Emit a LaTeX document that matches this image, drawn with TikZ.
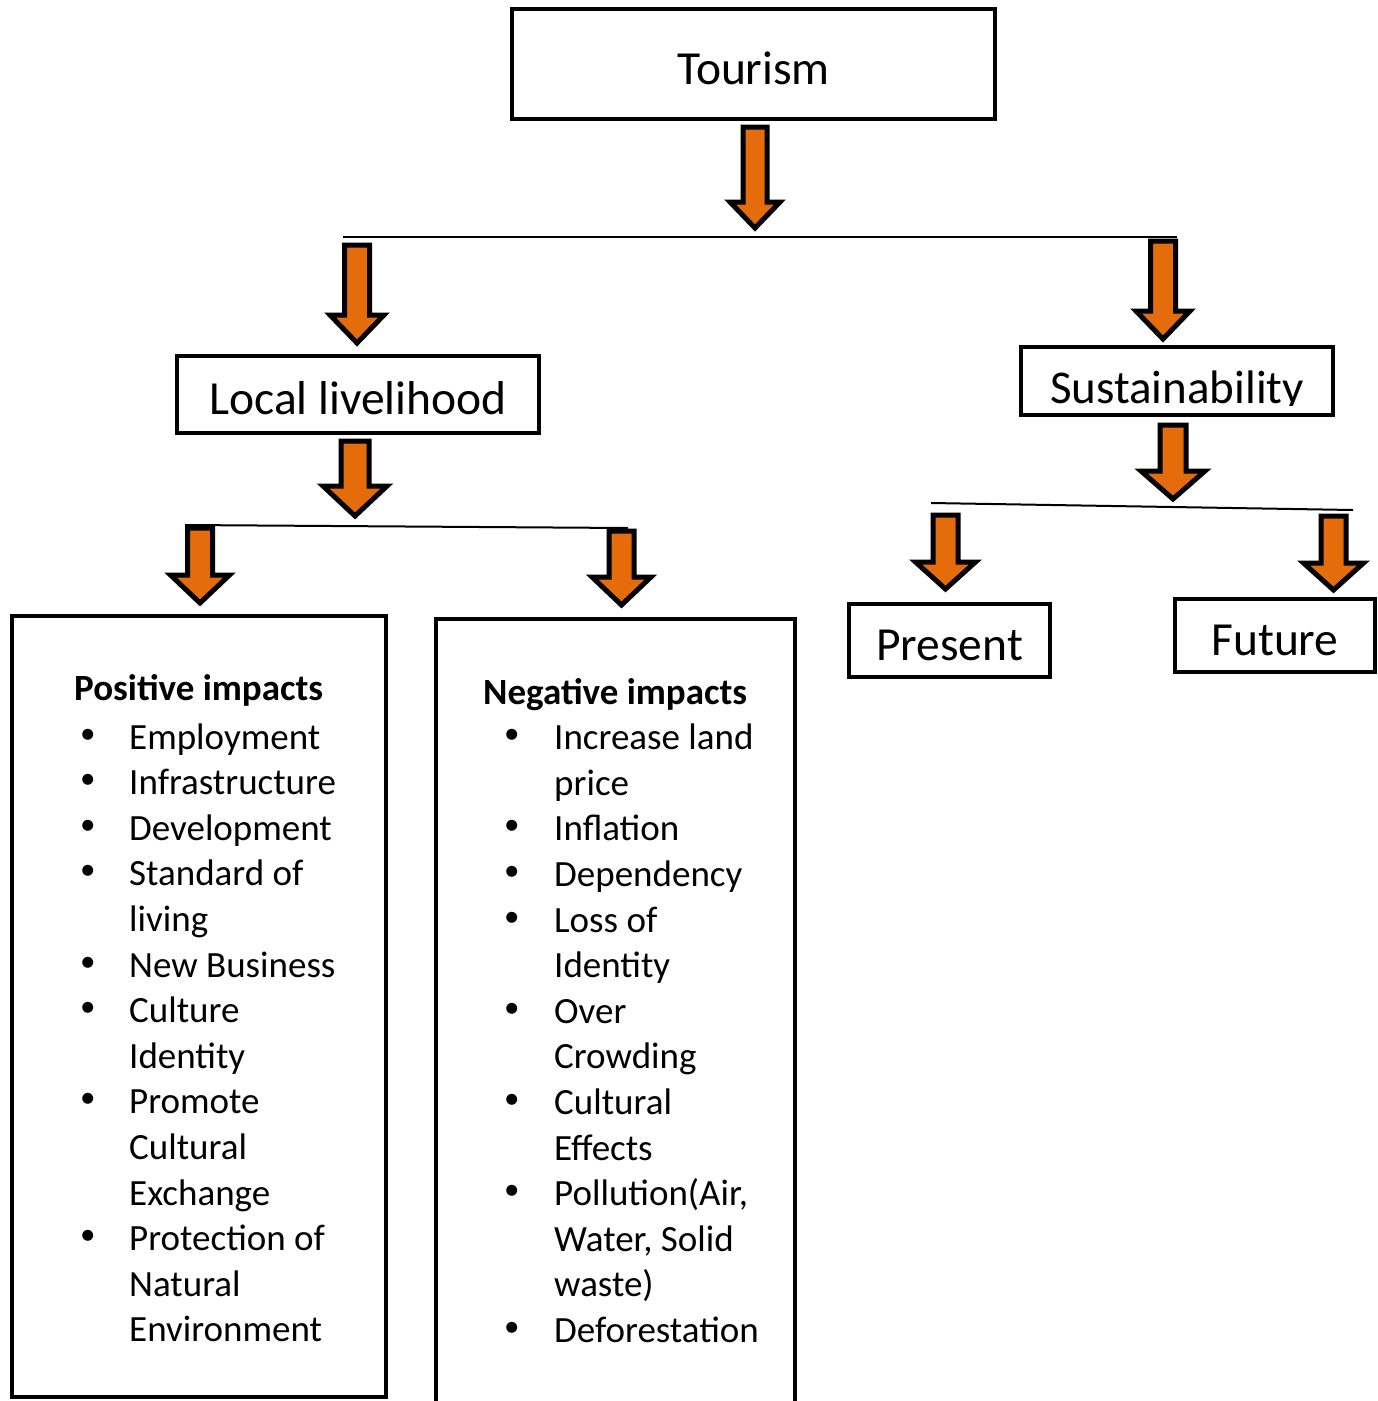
\documentclass[tikz,border=0pt]{standalone}
\usepackage{fontspec}
\setmainfont{Carlito}
\usepackage{array}
\definecolor{arroworange}{HTML}{E46C0A}
\tikzset{
  box/.style={draw=black, line width=4pt, fill=white, inner sep=0pt,
    font=\fontsize{47.5}{57}\selectfont, text height=40pt, text depth=0pt},
  thinline/.style={draw=black, line width=2pt},
  blockarrow/.style={draw=black, fill=arroworange, line width=5pt, line join=miter},
  listtext/.style={inner sep=0pt, anchor=base west, align=left,
    font=\fontsize{37}{45.6}\selectfont}
}
% \barrow{cx}{top}{tip}{half shaft}{half head}{head length}
\newcommand{\barrow}[6]{%
  \draw[blockarrow] ({#1-#4},#2) -- ({#1+#4},#2) -- ({#1+#4},{#3-#6}) -- ({#1+#5},{#3-#6})
    -- (#1,#3) -- ({#1-#5},{#3-#6}) -- ({#1-#4},{#3-#6}) -- cycle;}
\newcommand{\bul}[1]{\hspace*{#1}\raisebox{6pt}{\fontsize{31}{31}\selectfont\textbullet}}
\begin{document}
\begin{tikzpicture}[x=1pt,y=-1pt]
\useasboundingbox (0,0) rectangle (1377,1401);
\clip (0,0) rectangle (1377,1401);

% top boxes
\node[box, minimum width=483pt, minimum height=110pt] (tourism) at (753.5,64) {Tourism};
\node[box, minimum width=362pt, minimum height=77pt] (local) at (358,394.5) {Local livelihood};
\node[box, minimum width=312pt, minimum height=68pt] (sus) at (1177,381) {};
\begin{scope}
  \clip (1023,349) rectangle (1331,405);
  \node[inner sep=0pt, anchor=base, font=\fontsize{47}{56}\selectfont] (sustext) at (1177,403) {Sustainability};
\end{scope}
\node[box, minimum width=201pt, minimum height=73pt] (present) at (949.5,640.5) {Present};
\node[box, minimum width=200pt, minimum height=73pt] (future) at (1275,635.5) {Future};

% connector lines
\coordinate (l1a) at (343,237); \coordinate (l1b) at (1177,237);
\draw[thinline] (l1a) -- (l1b);
\coordinate (l2a) at (185,525); \coordinate (l2b) at (628,528);
\draw[thinline] (l2a) -- (l2b);
\coordinate (l3a) at (931,503); \coordinate (l3b) at (1353,510);
\draw[thinline] (l3a) -- (l3b);

% block arrows
\barrow{755}{127}{228}{12}{25}{26}
\barrow{357}{245}{343}{12.5}{27}{28}
\barrow{1163}{241}{339}{12.5}{27}{28}
\barrow{355}{441}{516}{14}{32}{30}
\barrow{200}{528}{603}{12.5}{29.5}{28}
\barrow{621.5}{531}{605}{12.5}{29.5}{28}
\barrow{1173}{425}{499}{13}{32}{28}
\barrow{945.5}{515}{589}{12.5}{30}{27}
\barrow{1333.5}{516}{590}{12.5}{30}{27}

% lower boxes
\draw[line width=4pt, line join=miter] (12,1397) -- (12,616) -- (386,616) -- (386,1397) -- cycle;
\coordinate (posbox) at (199,616);
\draw[line width=4pt, line join=miter] (436,1420) -- (436,619) -- (795,619) -- (795,1420);
\coordinate (negbox) at (615.5,619);

% lists
\node[listtext] (pos) at (74,700) {%
\begin{tabular}[t]{@{}p{55pt}@{}l@{}}
\multicolumn{2}{@{}l@{}}{\fontsize{37}{45.6}\selectfont\bfseries Positive impacts}\\[3.4pt]
\bul{6pt} & Employment\\
\bul{6pt} & Infrastructure\\
\bul{6pt} & Development\\
\bul{6pt} & Standard of\\
 & living\\
\bul{6pt} & New Business\\
\bul{6pt} & Culture\\
 & Identity\\
\bul{6pt} & Promote\\
 & Cultural\\
 & Exchange\\
\bul{6pt} & Protection of\\
 & Natural\\
 & Environment
\end{tabular}};

\node[listtext] (neg) at (483,704) {%
\begin{tabular}[t]{@{}p{71pt}@{}l@{}}
\multicolumn{2}{@{}l@{}}{\fontsize{37}{45.6}\selectfont\bfseries Negative impacts}\\
\bul{21pt} & Increase land\\
 & price\\
\bul{21pt} & Inflation\\
\bul{21pt} & Dependency\\
\bul{21pt} & Loss of\\
 & Identity\\
\bul{21pt} & Over\\
 & Crowding\\
\bul{21pt} & Cultural\\
 & Effects\\
\bul{21pt} & Pollution(Air,\\
 & Water, Solid\\
 & waste)\\
\bul{21pt} & Deforestation
\end{tabular}};
\end{tikzpicture}
\end{document}
